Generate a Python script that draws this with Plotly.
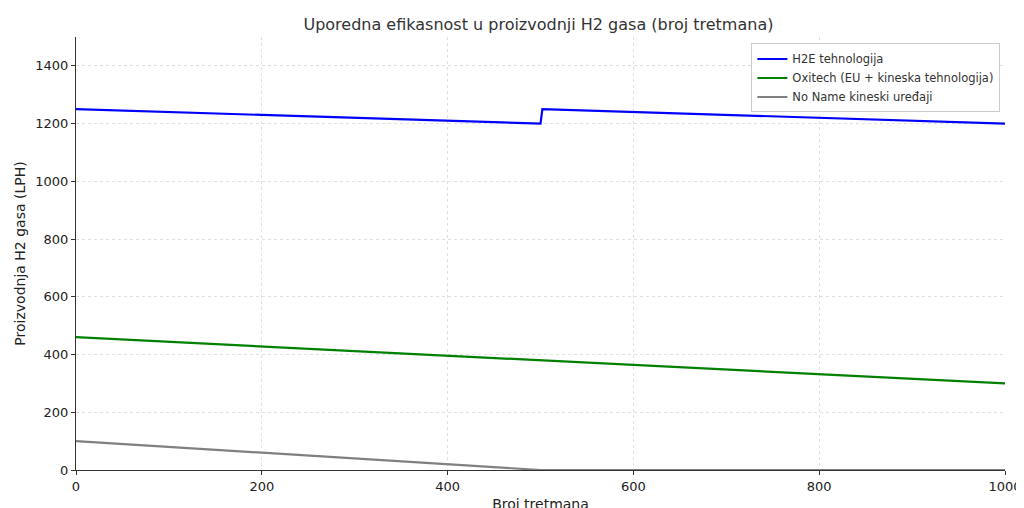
import plotly.graph_objects as go

# breakpoints
h2e_x = [0, 500, 502, 1000]
h2e_y = [1250, 1200, 1250, 1200]
oxi_x = [0, 1000]
oxi_y = [460, 300]
noname_x = [0, 500, 1000]
noname_y = [100, 0, 0]

fig = go.Figure()
fig.add_trace(go.Scatter(x=h2e_x, y=h2e_y, mode="lines", name="H2E tehnologija",
                         line=dict(color="#0000ff", width=2.2)))
fig.add_trace(go.Scatter(x=oxi_x, y=oxi_y, mode="lines", name="Oxitech (EU + kineska tehnologija)",
                         line=dict(color="#008000", width=2.2)))
fig.add_trace(go.Scatter(x=noname_x, y=noname_y, mode="lines", name="No Name kineski uređaji",
                         line=dict(color="#808080", width=2.2), cliponaxis=False))

axis_common = dict(showgrid=True, gridcolor="#e0e0e0", griddash="dot", gridwidth=1,
                   showline=True, linecolor="#333333", linewidth=1, ticks="outside",
                   ticklen=4, tickcolor="#333333", zeroline=False, mirror=False,
                   automargin=False, tickfont=dict(size=13, color="#222222"))

fig.update_layout(
    width=1024, height=508,
    paper_bgcolor="white", plot_bgcolor="white",
    font=dict(family="DejaVu Sans", color="#222222"),
    title=dict(text="Uporedna efikasnost u proizvodnji H2 gasa (broj tretmana)",
               x=0.518, xanchor="center", y=0.968, yanchor="middle",
               font=dict(size=16, color="#333333")),
    margin=dict(l=68, r=27, t=29, b=46, autoexpand=False),
    xaxis=dict(axis_common, range=[0, 1000], dtick=200,
               title=dict(text="Broj tretmana", font=dict(size=14), standoff=6)),
    yaxis=dict(axis_common, range=[0, 1500], dtick=200,
               title=dict(text="Proizvodnja H2 gasa (LPH)", font=dict(size=14), standoff=6)),
    legend=dict(x=0.995, y=0.985, xanchor="right", yanchor="top",
                bgcolor="rgba(255,255,255,0.9)", bordercolor="#cccccc", borderwidth=1,
                font=dict(size=11.5, color="#333333"), tracegroupgap=0),
)

fig.write_html("out.html")
